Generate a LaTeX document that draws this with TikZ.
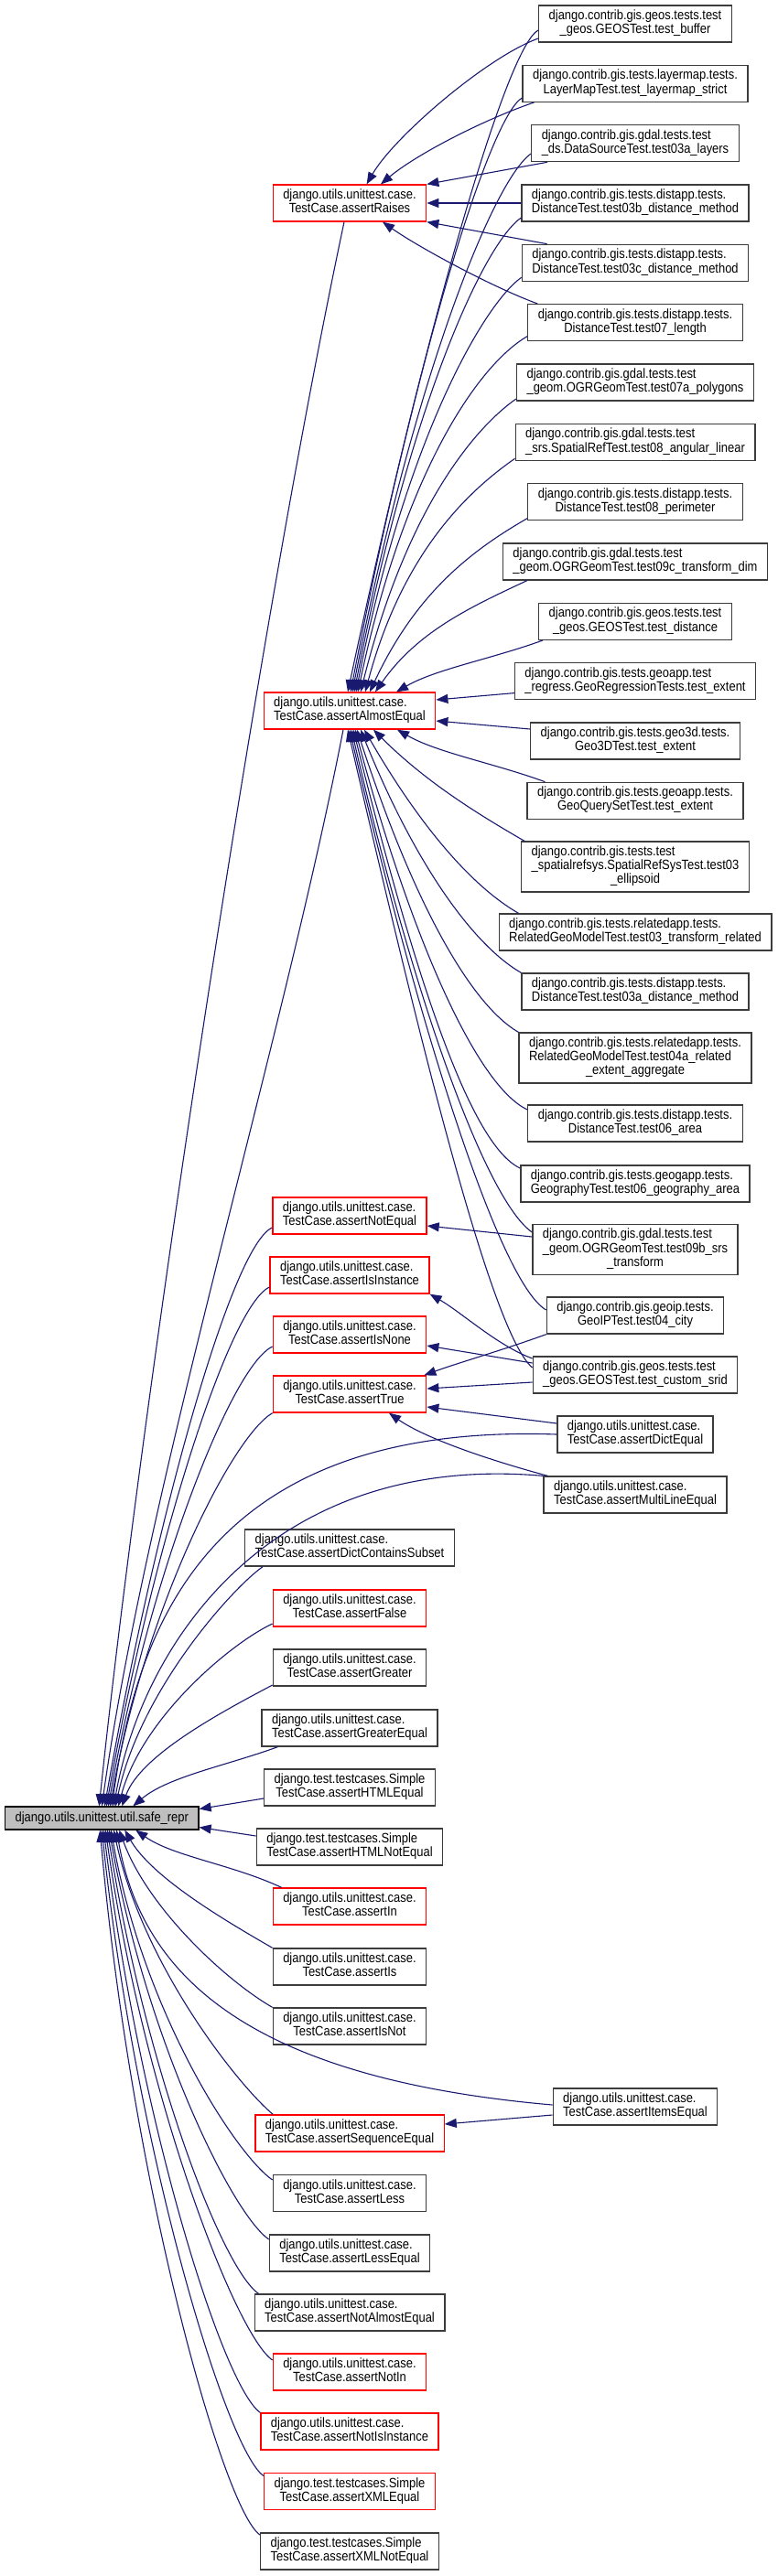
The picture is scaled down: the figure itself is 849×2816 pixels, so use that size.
\documentclass[tikz,border=0pt]{standalone}
\usepackage{fontspec}
\setmainfont{Liberation Sans}[FakeStretch=0.875]
\usetikzlibrary{arrows.meta}
\definecolor{edgecol}{RGB}{25,25,112}
\definecolor{boxgray}{RGB}{191,191,191}
\definecolor{redline}{RGB}{255,0,0}
\definecolor{boxline}{RGB}{60,60,60}
\newcommand{\fsz}{\fontsize{14.8}{15}\selectfont}
\newcommand{\twol}[2]{\begin{tabular}{@{}l@{}}#1\\\multicolumn{1}{@{}c@{}}{#2}\end{tabular}}
\newcommand{\threel}[3]{\begin{tabular}{@{}l@{}}#1\\#2\\\multicolumn{1}{@{}c@{}}{#3}\end{tabular}}
\tikzset{
  box/.style={draw=boxline, line width=1.3pt, fill=white, font=\fsz, inner xsep=11pt, inner ysep=0pt, minimum height=40pt},
  rbox/.style={box, draw=redline},
  tall/.style={minimum height=55pt},
  e/.style={draw=edgecol, line width=1.1pt, -{Triangle[length=13pt,width=10pt]}},
}
\begin{document}
\begin{tikzpicture}[x=1pt,y=1pt]
\useasboundingbox[fill=white] (0,0) rectangle (849,-2816);
% ---------- right column ----------
\node[box] (tbuf) at (694,-26) {\twol{django.contrib.gis.geos.tests.test}{\_geos.GEOSTest.test\_buffer}};
\node[box] (lmap) at (694,-91.3) {\twol{django.contrib.gis.tests.layermap.tests.}{LayerMapTest.test\_layermap\_strict}};
\node[box] (ds03a) at (694,-156.6) {\twol{django.contrib.gis.gdal.tests.test}{\_ds.DataSourceTest.test03a\_layers}};
\node[box] (d03b) at (694,-222) {\twol{django.contrib.gis.tests.distapp.tests.}{DistanceTest.test03b\_distance\_method}};
\node[box] (d03c) at (694,-287.3) {\twol{django.contrib.gis.tests.distapp.tests.}{DistanceTest.test03c\_distance\_method}};
\node[box] (d07) at (694,-352.6) {\twol{django.contrib.gis.tests.distapp.tests.}{DistanceTest.test07\_length}};
\node[box] (og07a) at (694,-418) {\twol{django.contrib.gis.gdal.tests.test}{\_geom.OGRGeomTest.test07a\_polygons}};
\node[box] (sr08) at (694,-483.3) {\twol{django.contrib.gis.gdal.tests.test}{\_srs.SpatialRefTest.test08\_angular\_linear}};
\node[box] (d08) at (694,-548.6) {\twol{django.contrib.gis.tests.distapp.tests.}{DistanceTest.test08\_perimeter}};
\node[box] (og09c) at (694,-614) {\twol{django.contrib.gis.gdal.tests.test}{\_geom.OGRGeomTest.test09c\_transform\_dim}};
\node[box] (gdist) at (694,-679.3) {\twol{django.contrib.gis.geos.tests.test}{\_geos.GEOSTest.test\_distance}};
\node[box] (greg) at (694,-744.6) {\twol{django.contrib.gis.tests.geoapp.test}{\_regress.GeoRegressionTests.test\_extent}};
\node[box] (g3d) at (694,-810) {\twol{django.contrib.gis.tests.geo3d.tests.}{Geo3DTest.test\_extent}};
\node[box] (gqs) at (694,-875.3) {\twol{django.contrib.gis.tests.geoapp.tests.}{GeoQuerySetTest.test\_extent}};
\node[box,tall] (srs03) at (694,-947.5) {\threel{django.contrib.gis.tests.test}{\_spatialrefsys.SpatialRefSysTest.test03}{\_ellipsoid}};
\node[box] (rel03) at (694,-1019) {\twol{django.contrib.gis.tests.relatedapp.tests.}{RelatedGeoModelTest.test03\_transform\_related}};
\node[box] (d03a) at (694,-1084) {\twol{django.contrib.gis.tests.distapp.tests.}{DistanceTest.test03a\_distance\_method}};
\node[box,tall] (rel04a) at (694,-1156.5) {\threel{django.contrib.gis.tests.relatedapp.tests.}{RelatedGeoModelTest.test04a\_related}{\_extent\_aggregate}};
\node[box] (d06) at (694,-1228) {\twol{django.contrib.gis.tests.distapp.tests.}{DistanceTest.test06\_area}};
\node[box] (geog) at (694,-1294) {\twol{django.contrib.gis.tests.geogapp.tests.}{GeographyTest.test06\_geography\_area}};
\node[box,tall] (og09b) at (694,-1366) {\threel{django.contrib.gis.gdal.tests.test}{\_geom.OGRGeomTest.test09b\_srs}{\_transform}};
\node[box] (geoip) at (694,-1438) {\twol{django.contrib.gis.geoip.tests.}{GeoIPTest.test04\_city}};
\node[box] (gsrid) at (694,-1503) {\twol{django.contrib.gis.geos.tests.test}{\_geos.GEOSTest.test\_custom\_srid}};
\node[box] (dicteq) at (694,-1568) {\twol{django.utils.unittest.case.}{TestCase.assertDictEqual}};
\node[box] (mleq) at (694,-1634) {\twol{django.utils.unittest.case.}{TestCase.assertMultiLineEqual}};
\node[box] (itemseq) at (694,-2303) {\twol{django.utils.unittest.case.}{TestCase.assertItemsEqual}};
% ---------- middle column ----------
\node[rbox] (raises) at (382,-222) {\twol{django.utils.unittest.case.}{TestCase.assertRaises}};
\node[rbox] (almost) at (382,-777) {\twol{django.utils.unittest.case.}{TestCase.assertAlmostEqual}};
\node[rbox] (noteq) at (382,-1329) {\twol{django.utils.unittest.case.}{TestCase.assertNotEqual}};
\node[rbox] (isinst) at (382,-1394) {\twol{django.utils.unittest.case.}{TestCase.assertIsInstance}};
\node[rbox] (isnone) at (382,-1459) {\twol{django.utils.unittest.case.}{TestCase.assertIsNone}};
\node[rbox] (istrue) at (382,-1524) {\twol{django.utils.unittest.case.}{TestCase.assertTrue}};
\node[box] (dictsub) at (382,-1692) {\twol{django.utils.unittest.case.}{TestCase.assertDictContainsSubset}};
\node[rbox] (isfalse) at (382,-1758) {\twol{django.utils.unittest.case.}{TestCase.assertFalse}};
\node[box] (greater) at (382,-1823) {\twol{django.utils.unittest.case.}{TestCase.assertGreater}};
\node[box] (greatereq) at (382,-1889) {\twol{django.utils.unittest.case.}{TestCase.assertGreaterEqual}};
\node[box] (htmleq) at (382,-1954) {\twol{django.test.testcases.Simple}{TestCase.assertHTMLEqual}};
\node[box] (htmlneq) at (382,-2019) {\twol{django.test.testcases.Simple}{TestCase.assertHTMLNotEqual}};
\node[rbox] (isin) at (382,-2084) {\twol{django.utils.unittest.case.}{TestCase.assertIn}};
\node[box] (iss) at (382,-2150) {\twol{django.utils.unittest.case.}{TestCase.assertIs}};
\node[box] (isnot) at (382,-2215) {\twol{django.utils.unittest.case.}{TestCase.assertIsNot}};
\node[rbox] (seqeq) at (382,-2332) {\twol{django.utils.unittest.case.}{TestCase.assertSequenceEqual}};
\node[box] (less) at (382,-2397.6) {\twol{django.utils.unittest.case.}{TestCase.assertLess}};
\node[box] (lesseq) at (382,-2463) {\twol{django.utils.unittest.case.}{TestCase.assertLessEqual}};
\node[box] (notalmost) at (382,-2528) {\twol{django.utils.unittest.case.}{TestCase.assertNotAlmostEqual}};
\node[rbox] (notin) at (382,-2593) {\twol{django.utils.unittest.case.}{TestCase.assertNotIn}};
\node[rbox] (notisinst) at (382,-2658) {\twol{django.utils.unittest.case.}{TestCase.assertNotIsInstance}};
\node[rbox] (xmleq) at (382,-2723.5) {\twol{django.test.testcases.Simple}{TestCase.assertXMLEqual}};
\node[box] (xmlneq) at (382,-2789) {\twol{django.test.testcases.Simple}{TestCase.assertXMLNotEqual}};
% ---------- left ----------
\node[box, fill=boxgray, draw=black, minimum height=25pt] (safe) at (111.3,-1987.5) {django.utils.unittest.util.safe\_repr};
% ---------- edges into assertRaises ----------
\draw[e] ([yshift=-16pt]tbuf.west) .. controls +(200:60) and +(60:60) .. ([xshift=18.6pt]raises.north);
\draw[e] ([xshift=13pt]lmap.south west) .. controls +(199:60) and +(40:50) .. ([xshift=34pt]raises.north);
\draw[e] ([xshift=18pt]ds03a.south west) -- (raises.north east);
\draw[e] (d03b.west) -- (raises.east);
\draw[e] ([xshift=28pt]d03c.north west) -- (raises.south east);
\draw[e] ([xshift=11pt]d07.north west) .. controls +(160:50) and +(-35:50) .. ([xshift=36pt]raises.south);
% ---------- edges into assertAlmostEqual ----------
\draw[e] ([yshift=-7pt]tbuf.west) .. controls +(208:40) and +(78:400) .. ([xshift=-2pt]almost.north);
\draw[e] ([yshift=-15.7pt]lmap.west) .. controls +(210:40) and +(79:380) .. ([xshift=1pt]almost.north);
\draw[e] ([yshift=-11.4pt]ds03a.west) .. controls +(215:50) and +(79:350) .. ([xshift=3pt]almost.north);
\draw[e] ([yshift=-16pt]d03b.west) .. controls +(215:50) and +(79:320) .. ([xshift=5pt]almost.north);
\draw[e] ([yshift=-16pt]d03c.west) .. controls +(215:50) and +(79:280) .. ([xshift=7pt]almost.north);
\draw[e] ([yshift=-15pt]d07.west) .. controls +(210:60) and +(78:250) .. ([xshift=9pt]almost.north);
\draw[e] ([yshift=-18pt]og07a.west) .. controls +(215:60) and +(76:200) .. ([xshift=12pt]almost.north);
\draw[e] ([yshift=-18pt]sr08.west) .. controls +(215:60) and +(75:160) .. ([xshift=17pt]almost.north);
\draw[e] ([yshift=-18pt]d08.west) .. controls +(210:70) and +(65:120) .. ([xshift=22pt]almost.north);
\draw[e] ([xshift=27pt]og09c.south west) .. controls +(205:70) and +(55:80) .. ([xshift=28pt]almost.north);
\draw[e] ([xshift=5pt]gdist.south west) .. controls +(200:60) and +(30:50) .. ([xshift=51pt]almost.north);
\draw[e] ([yshift=-13pt]greg.west) -- ([yshift=12pt]almost.east);
\draw[e] ([yshift=13pt]g3d.west) -- ([yshift=-11pt]almost.east);
\draw[e] ([xshift=20pt]gqs.north west) .. controls +(160:60) and +(-30:50) .. ([xshift=52pt]almost.south);
\draw[e] ([xshift=4pt]srs03.north west) .. controls +(150:60) and +(-45:80) .. ([xshift=26pt]almost.south);
\draw[e] ([xshift=22pt]rel03.north west) .. controls +(150:60) and +(-60:120) .. ([xshift=16pt]almost.south);
\draw[e] (d03a.north west) .. controls +(150:60) and +(-68:160) .. ([xshift=12pt]almost.south);
\draw[e] (rel04a.north west) .. controls +(150:60) and +(-72:200) .. ([xshift=8pt]almost.south);
\draw[e] ([yshift=15pt]d06.west) .. controls +(155:60) and +(-75:240) .. ([xshift=6pt]almost.south);
\draw[e] ([yshift=17pt]geog.west) .. controls +(155:60) and +(-76:280) .. ([xshift=4pt]almost.south);
\draw[e] ([yshift=19pt]og09b.west) .. controls +(145:60) and +(-77:310) .. ([xshift=2pt]almost.south);
\draw[e] ([yshift=6pt]geoip.west) .. controls +(150:60) and +(-77:320) .. (almost.south);
\draw[e] ([yshift=8pt]gsrid.west) .. controls +(140:60) and +(-77:330) .. ([xshift=-2pt]almost.south);
% ---------- other middle targets ----------
\draw[e] ([yshift=14pt]og09b.west) -- ([yshift=-11pt]noteq.east);
\draw[e] ([yshift=18pt]gsrid.west) .. controls +(160:40) and +(-30:40) .. (isinst.south east);
\draw[e] ([yshift=13pt]gsrid.west) -- ([yshift=-12pt]isnone.east);
\draw[e] (geoip.south west) .. controls +(200:50) and +(20:40) .. ([xshift=-3pt]istrue.north east);
\draw[e] ([yshift=-8pt]gsrid.west) -- ([yshift=6pt]istrue.east);
\draw[e] ([yshift=12pt]dicteq.west) -- ([yshift=-14pt]istrue.east);
\draw[e] ([xshift=5pt]mleq.north west) .. controls +(165:60) and +(-35:50) .. ([xshift=43pt]istrue.south);
\draw[e] ([yshift=-9pt]itemseq.west) -- ([yshift=10pt]seqeq.east);
% ---------- edges into safe_repr ----------
\draw[e] ([xshift=-6pt]raises.south) .. controls +(-102:450) and +(84:450) .. ([xshift=-3pt]safe.north);
\draw[e] ([xshift=-7pt]almost.south) .. controls +(-101:350) and +(82:350) .. (safe.north);
\draw[e] ([yshift=-13pt]noteq.west) .. controls +(205:50) and +(80:310) .. ([xshift=3pt]safe.north);
\draw[e] ([yshift=-13pt]isinst.west) .. controls +(205:50) and +(80:280) .. ([xshift=5pt]safe.north);
\draw[e] ([yshift=-13pt]isnone.west) .. controls +(205:50) and +(80:250) .. ([xshift=7pt]safe.north);
\draw[e] (istrue.south west) .. controls +(210:50) and +(80:220) .. ([xshift=9pt]safe.north);
\draw[e] (dicteq.west) .. controls +(178:380) and +(82:200) .. ([xshift=11pt]safe.north);
\draw[e] (mleq.north west) .. controls +(175:300) and +(80:180) .. ([xshift=13pt]safe.north);
\draw[e] ([xshift=20pt]dictsub.south west) .. controls +(215:40) and +(78:130) .. ([xshift=15pt]safe.north);
\draw[e] ([yshift=-17pt]isfalse.west) .. controls +(205:50) and +(75:100) .. ([xshift=18pt]safe.north);
\draw[e] ([yshift=-19pt]greater.west) .. controls +(208:60) and +(70:60) .. ([xshift=22pt]safe.north);
\draw[e] ([xshift=18pt]greatereq.south west) .. controls +(200:60) and +(40:50) .. ([xshift=34pt]safe.north);
\draw[e] ([yshift=-12pt]htmleq.west) -- ([yshift=10pt]safe.east);
\draw[e] ([yshift=12pt]htmlneq.west) -- ([yshift=-10pt]safe.east);
\draw[e] ([xshift=10pt]isin.north west) .. controls +(155:60) and +(-35:50) .. ([xshift=37pt]safe.south);
\draw[e] (iss.north west) .. controls +(150:60) and +(-60:60) .. ([xshift=25pt]safe.south);
\draw[e] (isnot.north west) .. controls +(150:60) and +(-70:90) .. ([xshift=19pt]safe.south);
\draw[e] ([yshift=2pt]itemseq.west) .. controls +(175:350) and +(-80:150) .. ([xshift=16pt]safe.south);
\draw[e] ([xshift=20pt]seqeq.north west) .. controls +(140:50) and +(-78:150) .. ([xshift=13pt]safe.south);
\draw[e] ([yshift=14.6pt]less.west) .. controls +(145:50) and +(-80:200) .. ([xshift=10pt]safe.south);
\draw[e] ([yshift=15pt]lesseq.west) .. controls +(145:50) and +(-80:230) .. ([xshift=8pt]safe.south);
\draw[e] ([xshift=5pt]notalmost.north west) .. controls +(145:50) and +(-81:260) .. ([xshift=6pt]safe.south);
\draw[e] ([yshift=13pt]notin.west) .. controls +(145:50) and +(-82:290) .. ([xshift=4pt]safe.south);
\draw[e] (notisinst.north west) .. controls +(145:50) and +(-83:320) .. ([xshift=2pt]safe.south);
\draw[e] ([yshift=17pt]xmleq.west) .. controls +(145:50) and +(-84:350) .. (safe.south);
\draw[e] ([yshift=18pt]xmlneq.west) .. controls +(145:50) and +(-85:380) .. ([xshift=-2pt]safe.south);
\end{tikzpicture}
\end{document}
